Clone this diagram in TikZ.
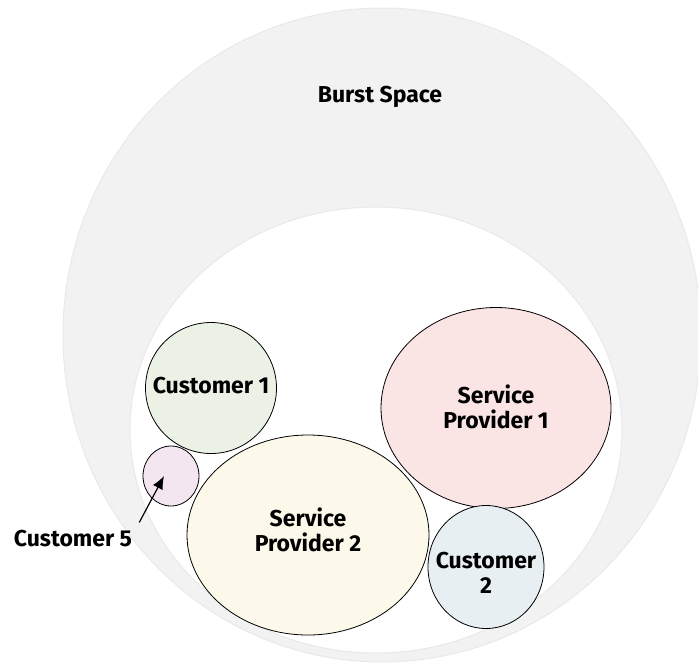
\documentclass[tikz,border=0pt]{standalone}
\usepackage{fontspec}
\setmainfont{Fira Sans}
\usetikzlibrary{shapes.geometric, arrows.meta}

\definecolor{burstfill}{RGB}{243,242,243}
\definecolor{burstedge}{RGB}{234,233,234}
\definecolor{custAfill}{RGB}{235,241,228}
\definecolor{custBfill}{RGB}{232,239,243}
\definecolor{custEfill}{RGB}{243,230,240}
\definecolor{provAfill}{RGB}{251,229,228}
\definecolor{provBfill}{RGB}{252,249,234}

\begin{document}
\begin{tikzpicture}[x=1pt, y=-1pt, font=\bfseries\fontsize{23}{24.5}\selectfont,
	blob/.style={draw, ellipse, line width=.8pt, inner sep=0pt},
	lbl/.style={align=center, inner sep=0pt}]
	\useasboundingbox (0,0) rectangle (698,667);

	% burst space ring
	\filldraw[fill=burstfill, draw=burstedge, line width=1pt] (382,335) ellipse [x radius=319pt, y radius=327pt];
	\filldraw[fill=white, draw=burstedge, line width=1pt] (376,430) ellipse [x radius=246pt, y radius=223pt];
	\node[lbl]	(burst)		at (380,97)		{Burst Space};

	\node[blob, fill=custAfill, minimum width=131pt, minimum height=131pt]	(custA)	at (211,388)	{};
	\node[blob, fill=custEfill, minimum width=56pt, minimum height=60pt]	(custE)	at (171,476)	{};
	\node[blob, fill=provAfill, minimum width=230pt, minimum height=201pt]	(provA)	at (496,408)	{};
	\node[blob, fill=provBfill, minimum width=242pt, minimum height=200pt]	(provB)	at (308,535)	{};
	\node[blob, fill=custBfill, minimum width=116pt, minimum height=123pt]	(custB)	at (486,567)	{};

	\node[lbl]	(custAtxt)	at (211,386)		{Customer 1};
	\node[lbl]	(provAtxt)	at (496,407)		{Service\\Provider 1};
	\node[lbl]	(provBtxt)	at (308,530)		{Service\\Provider 2};
	\node[lbl]	(custBtxt)	at (486,573)		{Customer\\2};
	\node[lbl]	(custEtxt)	at (73,539)			{Customer 5};

	\draw[-{Latex[length=13pt, width=11pt]}, line width=1.2pt]
		([xshift=7pt, yshift=8pt]custEtxt.north east) -- ([xshift=-7pt]custE.center);
\end{tikzpicture}
\end{document}
